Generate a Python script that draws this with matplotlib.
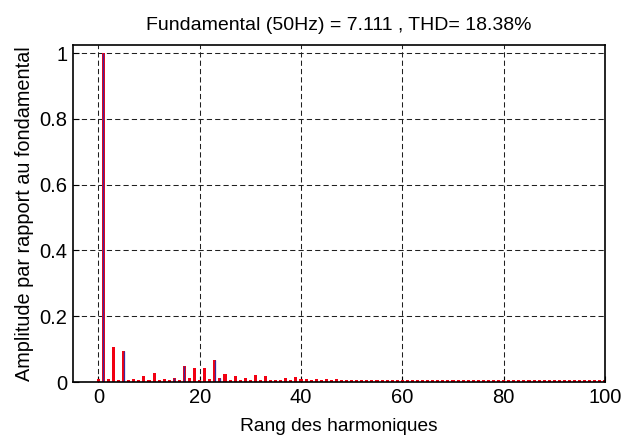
import matplotlib
matplotlib.use("Agg")
import matplotlib.pyplot as plt

# Harmonic spectrum relative to the fundamental (order 1)
orders = list(range(0, 101))
magnitudes = [
    0.008, 1.000, 0.008, 0.107, 0.006, 0.093, 0.006, 0.008, 0.006, 0.018,  # 0-9
    0.006, 0.028, 0.006, 0.008, 0.006, 0.013, 0.006, 0.048, 0.013, 0.043,  # 10-19
    0.007, 0.043, 0.008, 0.068, 0.013, 0.023, 0.006, 0.018, 0.006, 0.013,  # 20-29
    0.006, 0.020, 0.006, 0.017, 0.006, 0.006, 0.006, 0.011, 0.006, 0.016,  # 30-39
    0.010, 0.008, 0.006, 0.008, 0.006, 0.008, 0.006, 0.008, 0.005, 0.006,  # 40-49
    0.005, 0.005, 0.005, 0.005, 0.005, 0.005, 0.005, 0.005, 0.005, 0.005,  # 50-59
    0.005, 0.005, 0.005, 0.005, 0.005, 0.005, 0.005, 0.005, 0.005, 0.005,  # 60-69
    0.005, 0.005, 0.005, 0.005, 0.005, 0.005, 0.005, 0.005, 0.005, 0.005,  # 70-79
    0.005, 0.005, 0.005, 0.005, 0.005, 0.005, 0.005, 0.005, 0.005, 0.005,  # 80-89
    0.005, 0.005, 0.005, 0.005, 0.005, 0.005, 0.005, 0.005, 0.005, 0.005,  # 90-99
    0.005,                                                                  # 100
]
# Orders whose bar face shows through the edge colour
face_visible = [1, 5, 15, 17, 23, 24]

title = "Fundamental (50Hz) = 7.111 , THD= 18.38%"
xlabel = "Rang des harmoniques"
ylabel = "Amplitude par rapport au fondamental"
xticks = [0, 20, 40, 60, 80, 100]
yticks = [0, 0.2, 0.4, 0.6, 0.8, 1]
ytick_labels = ["0", "0.2", "0.4", "0.6", "0.8", "1"]

plt.rcParams["font.family"] = ["Liberation Sans", "DejaVu Sans"]

fig = plt.figure(figsize=(6.25, 4.40), dpi=100)
ax = fig.add_axes([0.1168, 0.1318, 0.8512, 0.7659])

red = "#f20012"
blue = "#3b2a9c"

ax.bar(orders, magnitudes, width=0.6, color=red, linewidth=0, zorder=3)
face_vals = [magnitudes[orders.index(o)] for o in face_visible]
ax.vlines(face_visible, 0, face_vals, colors=blue, linewidth=0.9, zorder=4)

ax.set_xlim(-5, 100)
ax.set_ylim(0, 1.025)
ax.set_xticks(xticks)
ax.set_yticks(yticks)
ax.set_yticklabels(ytick_labels)

ax.grid(True, color="#202020", linestyle=(0, (5, 3)), linewidth=0.75, zorder=1)
ax.set_axisbelow(True)

for s in ax.spines.values():
    s.set_linewidth(1.2)
    s.set_color("black")
    s.set_zorder(5)

ax.tick_params(direction="in", length=4, width=0.8, labelsize=14.5,
               top=False, right=False, pad=4)

ax.set_title(title, fontsize=14, pad=11)
ax.set_xlabel(xlabel, fontsize=13.8, labelpad=8)
ax.set_ylabel(ylabel, fontsize=14.3, labelpad=4)

fig.savefig("out.png", dpi=100, facecolor="white")
